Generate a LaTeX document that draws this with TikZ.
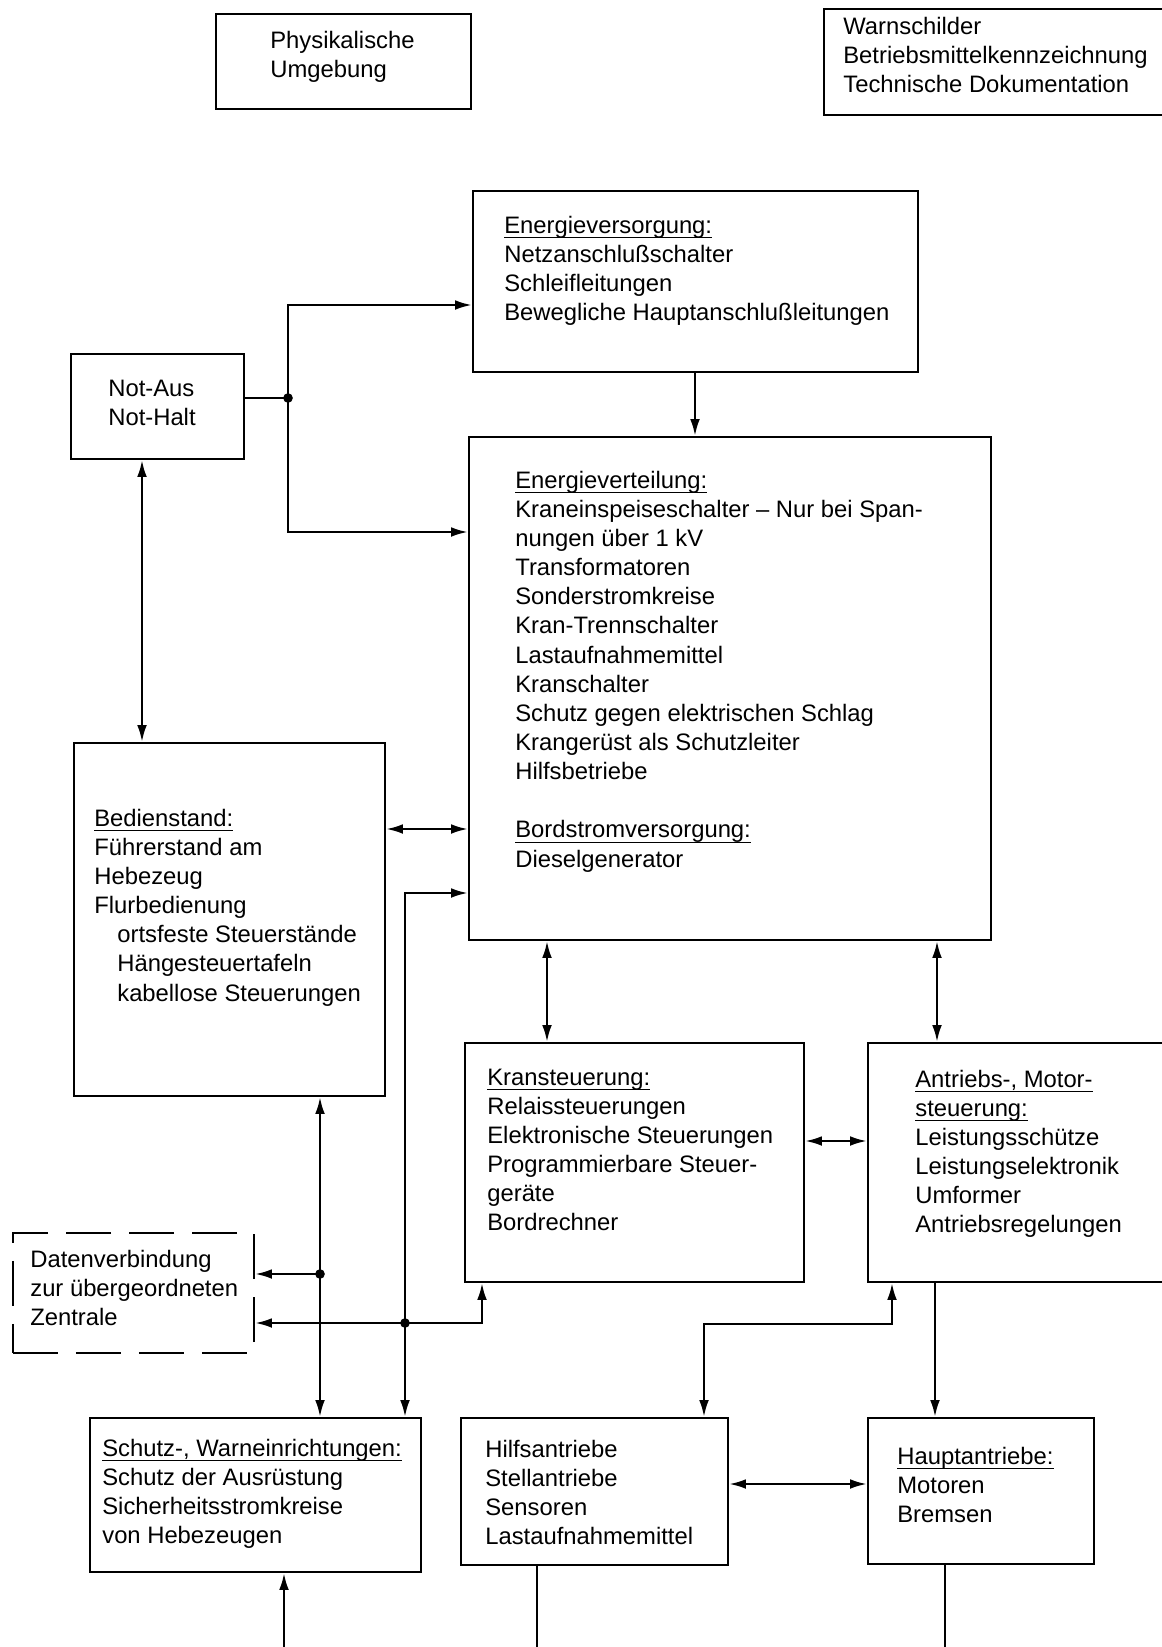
\documentclass[tikz,border=0pt]{standalone}
\usepackage{fontspec}
\setmainfont{Liberation Sans}
\usetikzlibrary{arrows.meta,fit}
\newcommand\ulin[1]{\setbox0\hbox{#1}\rlap{\rule[-2.6pt]{\wd0}{0.55pt}}\box0}
\newcommand\tlines[1]{\begin{tabular}[t]{@{}l@{}}#1\end{tabular}}
\newcommand\bx[6][box]{%
  \coordinate (#2-nw) at (#3,#4); \coordinate (#2-se) at (#5,#6);
  \node[#1, fit=(#2-nw)(#2-se)] (#2) {};}
\begin{document}
\begin{tikzpicture}[x=0.02cm,y=-0.02cm,
  box/.style={draw, line width=1.3pt, inner sep=0pt},
  dbox/.style={box, dash pattern=on 0.9cm off 0.36cm},
  txt/.style={anchor=base west, inner sep=0pt, font=\fontsize{13.55pt}{16.6pt}\selectfont},
  conn/.style={line width=1.3pt},
  ar/.style={conn, -{Latex[length=9.5pt,width=5.5pt]}},
  dar/.style={conn, {Latex[length=9.5pt,width=5.5pt]}-{Latex[length=9.5pt,width=5.5pt]}},
  jdot/.style={circle, fill, inner sep=0pt, minimum size=5.5pt}
]
\useasboundingbox (0,0) rectangle (1162,1647);

% ---------- boxes ----------
\bx{phys}{216}{14}{471}{109}
\bx{warn}{824}{9}{1185}{115}
\bx{ever}{473}{191}{918}{372}
\bx{notaus}{71}{354}{244}{459}
\bx{ndist}{469}{437}{991}{940}
\bx{bedien}{74}{743}{385}{1096}
\bx{kran}{465}{1043}{804}{1282}
\bx{antr}{868}{1043}{1185}{1282}
\bx[dbox]{daten}{13}{1233}{254}{1353}
\bx{schutz}{90}{1418}{421}{1572}
\bx{hilfs}{461}{1418}{728}{1565}
\bx{haupt}{868}{1418}{1094}{1564}

% ---------- texts ----------
\node[txt] (phys-t) at (270,48) {\tlines{Physikalische\\Umgebung}};
\node[txt] (warn-t) at (843,34) {\tlines{Warnschilder\\Betriebsmittelkennzeichnung\\Technische Dokumentation}};
\node[txt] (ever-t) at (504,233) {\tlines{\ulin{Energieversorgung:}\\Netzanschlußschalter\\Schleifleitungen\\Bewegliche Hauptanschlußleitungen}};
\node[txt] (notaus-t) at (108,396) {\tlines{Not-Aus\\Not-Halt}};
\node[txt] (ndist-t) at (515,488) {\tlines{\ulin{Energieverteilung:}\\Kraneinspeiseschalter – Nur bei Span-\\nungen über 1 kV\\Transformatoren\\Sonderstromkreise\\Kran-Trennschalter\\Lastaufnahmemittel\\Kranschalter\\Schutz gegen elektrischen Schlag\\Krangerüst als Schutzleiter\\Hilfsbetriebe\\ \\\ulin{Bordstromversorgung:}\\Dieselgenerator}};
\node[txt] (bedien-t) at (94,826) {\tlines{\ulin{Bedienstand:}\\Führerstand am\\Hebezeug\\Flurbedienung\\\hspace*{0.46cm}ortsfeste Steuerstände\\\hspace*{0.46cm}Hängesteuertafeln\\\hspace*{0.46cm}kabellose Steuerungen}};
\node[txt] (daten-t) at (30,1267) {\tlines{Datenverbindung\\zur übergeordneten\\Zentrale}};
\node[txt] (kran-t) at (487,1085) {\tlines{\ulin{Kransteuerung:}\\Relaissteuerungen\\Elektronische Steuerungen\\Programmierbare Steuer-\\geräte\\Bordrechner}};
\node[txt] (antr-t) at (915,1087) {\tlines{\ulin{Antriebs-, Motor-}\\\ulin{steuerung:}\\Leistungsschütze\\Leistungselektronik\\Umformer\\Antriebsregelungen}};
\node[txt] (schutz-t) at (102,1456) {\tlines{\ulin{Schutz-, Warneinrichtungen:}\\Schutz der Ausrüstung\\Sicherheitsstromkreise\\von Hebezeugen}};
\node[txt] (hilfs-t) at (485,1457) {\tlines{Hilfsantriebe\\Stellantriebe\\Sensoren\\Lastaufnahmemittel}};
\node[txt] (haupt-t) at (897,1464) {\tlines{\ulin{Hauptantriebe:}\\Motoren\\Bremsen}};

% ---------- routing coordinates ----------
\coordinate (j1) at (288,398);
\coordinate (yEv) at (0,305);
\coordinate (yNd) at (0,532);
\coordinate (xE) at (695,0);
\coordinate (xNA) at (142,0);
\coordinate (yB1) at (0,829);
\coordinate (yB2) at (0,893);
\coordinate (xS2) at (405,0);
\coordinate (xS1) at (320,0);
\coordinate (j2) at (320,1274);
\coordinate (xK) at (482,0);
\coordinate (yK) at (0,1323);
\coordinate (j3) at (405,1323);
\coordinate (xK2) at (547,0);
\coordinate (xA) at (937,0);
\coordinate (yKA) at (0,1141);
\coordinate (xA1) at (892,0);
\coordinate (yA1) at (0,1324);
\coordinate (xH) at (704,0);
\coordinate (xA2) at (935,0);
\coordinate (yHH) at (0,1484);
\coordinate (bot1) at (284,1650);
\coordinate (bot2) at (537,1650);
\coordinate (bot3) at (945,1650);

% ---------- connectors ----------
\draw[conn] (notaus.east |- j1) -- (j1);
\draw[ar] (j1) |- (ever.west |- yEv);
\draw[ar] (j1) |- (ndist.west |- yNd);
\draw[ar] (ever.south -| xE) -- (ndist.north -| xE);
\draw[dar] (notaus.south -| xNA) -- (bedien.north -| xNA);
\draw[dar] (bedien.east |- yB1) -- (ndist.west |- yB1);
\draw[dar] (ndist.west |- yB2) -| (schutz.north -| xS2);
\draw[dar] (bedien.south -| xS1) -- (schutz.north -| xS1);
\draw[ar] (j2) -- (daten.east |- j2);
\draw[dar] (kran.south -| xK) |- (daten.east |- yK);
\draw[dar] (ndist.south -| xK2) -- (kran.north -| xK2);
\draw[dar] (ndist.south -| xA) -- (antr.north -| xA);
\draw[dar] (kran.east |- yKA) -- (antr.west |- yKA);
\draw[dar] (antr.south -| xA1) |- (xH |- yA1) -- (hilfs.north -| xH);
\draw[ar] (antr.south -| xA2) -- (haupt.north -| xA2);
\draw[dar] (hilfs.east |- yHH) -- (haupt.west |- yHH);
\draw[ar] (bot1) -- (schutz.south -| bot1);
\draw[conn] (hilfs.south -| bot2) -- (bot2);
\draw[conn] (haupt.south -| bot3) -- (bot3);

\node[jdot] (d1) at (j1) {};
\node[jdot] (d2) at (j2) {};
\node[jdot] (d3) at (j3) {};
\end{tikzpicture}
\end{document}
